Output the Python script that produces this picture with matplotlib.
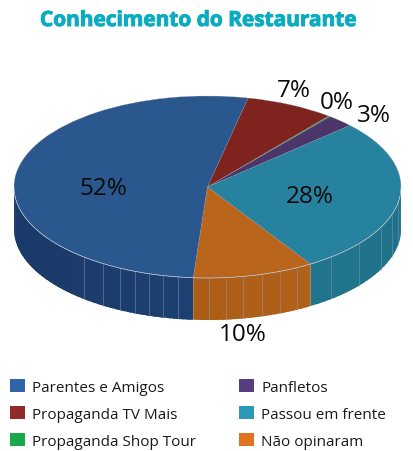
import numpy as np
import matplotlib
matplotlib.use("Agg")
import matplotlib.pyplot as plt
import matplotlib.patheffects as pe
from matplotlib.patches import Patch
from matplotlib.colors import to_rgb

plt.rcParams['font.family'] = ['Open Sans', 'DejaVu Sans']

categories = ["Parentes e Amigos", "Propaganda TV Mais", "Propaganda Shop Tour",
              "Panfletos", "Passou em frente", "Não opinaram"]
shares = [52.2, 7.4, 0.15, 2.25, 27.9, 10.1]
pct_labels = ["52%", "7%", "0%", "3%", "28%", "10%"]
title = "Conhecimento do Restaurante"

top_colors = ["#2a578d", "#7f231f", "#2f9a3a", "#4c3569", "#26829e", "#b9651c"]
side_left = ["#1a3a68", "#6a1c19", "#2f7a30", "#3e2b57", "#268099", "#a35813"]
side_right = ["#22487e", "#6a1c19", "#2f7a30", "#3e2b57", "#1f7289", "#b5631b"]
legend_colors = ["#2f64a8", "#92292a", "#1aa84b", "#573c7f", "#2b9ab8", "#e07422"]

W, H = 414, 452
CX, CY, RX, RY, DEPTH = 207.5, 188.0, 193.5, 91.0, 42.0
START = 265.8

fig = plt.figure(figsize=(W / 100, H / 100), dpi=100)
ax = fig.add_axes([0, 0, 1, 1])
ax.pie(shares, colors=top_colors, startangle=START, counterclock=False, radius=1,
       wedgeprops=dict(linewidth=0.2, edgecolor="#8a93a0"))
ax.set_aspect('auto')
ax.set_xlim((0 - CX) / RX, (W - CX) / RX)
ax.set_ylim((CY - H) / RY, CY / RY)
ax.axis('off')

d = DEPTH / RY
edges = START - np.cumsum([0] + shares) * 3.6

# side wall, drawn from the same shares
for i in range(len(shares)):
    a2, a1 = edges[i], edges[i + 1]      # a1 < a2, clockwise
    for shift in (0, 360):
        lo, hi = max(a1 - shift, -180), min(a2 - shift, 0)
        if hi <= lo:
            continue
        steps = max(2, int((hi - lo) / 2))
        grid = np.linspace(lo, hi, steps + 1)
        for j in range(steps):
            stop = min(grid[j + 1] + 1.5, hi)
            th = np.radians(np.linspace(grid[j], stop, 6))
            xs = np.r_[np.cos(th), np.cos(th)[::-1]]
            ys = np.r_[np.sin(th), np.sin(th)[::-1] - d]
            mid = (grid[j] + grid[j + 1]) / 2
            t = np.cos(np.radians(mid)) * 0.5 + 0.5
            c = np.array(to_rgb(side_left[i])) * (1 - t) + np.array(to_rgb(side_right[i])) * t
            ax.fill(xs, ys, facecolor=c, edgecolor='none', lw=0, zorder=0.5)

# facet lines on the wall
facets = [-129.6, -122.7, -117, -112, -107.6, -103.2, -98.8, -89.5, -84.5, -79.4, -73.6,
          -68, -62.6, -50.4, -38.5, -26.5, -17.8, -10]
for a in facets:
    r = np.radians(a)
    ax.plot([np.cos(r)] * 2, [np.sin(r), np.sin(r) - d], color="#8fa3b8", lw=0.5, alpha=0.6, zorder=0.6)

# light rim between top and wall
th = np.radians(np.linspace(-180, 0, 200))
ax.plot(np.cos(th), np.sin(th), color="#c3cbd6", lw=0.5, zorder=3)

def px(x, y):
    return x / W, 1 - y / H

label_pos = [(103, 189), (294, 91), (337, 103), (374, 116), (310, 197), (243, 335)]
for s, (x, y) in zip(pct_labels, label_pos):
    fig.text(*px(x, y), s, ha='center', va='center', fontsize=17.5, color="#0a0a0a")

fig.text(*px(198.5, 21.5), title, ha='center', va='center', fontsize=15, fontweight='bold',
         color="#0bacc0", path_effects=[pe.withStroke(linewidth=0.7, foreground="#0bacc0")])

handles = [Patch(facecolor=c, edgecolor='none') for c in legend_colors]
fig.legend(handles, categories, ncols=2, loc='upper left', bbox_to_anchor=(10 / W, 1 - 380 / H),
           frameon=False, fontsize=11, handlelength=0.98, handleheight=0.98,
           handletextpad=0.46, labelspacing=0.72, columnspacing=2.83, borderpad=0.0, borderaxespad=0.0,
           labelcolor="#1a1a1a")

fig.savefig("out.png", dpi=100)
